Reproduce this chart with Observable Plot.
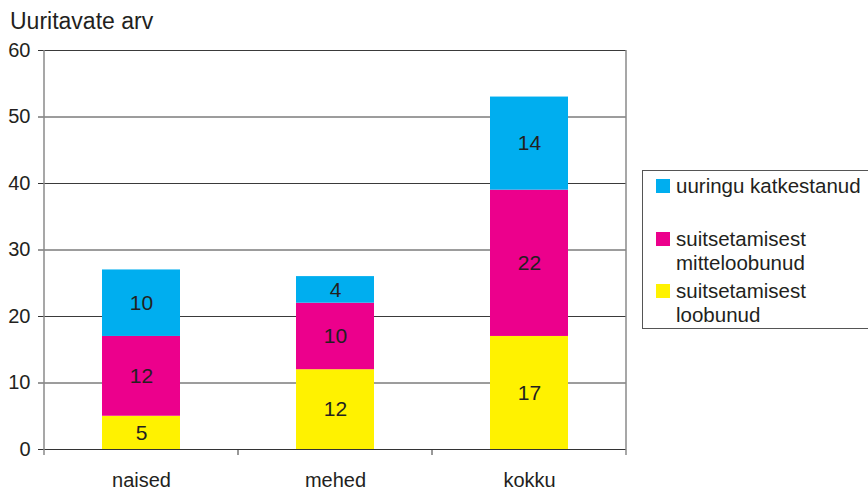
<!DOCTYPE html>
<html><head><meta charset="utf-8">
<script src="https://cdn.jsdelivr.net/npm/d3@7"></script>
<script src="https://cdn.jsdelivr.net/npm/@observablehq/plot@0.6"></script>
<style>body{margin:0;background:#fff}</style>
</head><body><div id="chart"></div>
<script>
const categories = ["naised", "mehed", "kokku"];
const seriesNames = ["suitsetamisest loobunud", "suitsetamisest mitteloobunud", "uuringu katkestanud"];
const loobunud = [5, 12, 17];
const mitteloobunud = [12, 10, 22];
const katkestanud = [10, 4, 14];
const yTicks = [0, 10, 20, 30, 40, 50, 60];
const colors = ["#FFF200", "#EC008C", "#00AEEF"];
const legendItems = [
  {color: "#00AEEF", lines: ["uuringu katkestanud"]},
  {color: "#EC008C", lines: ["suitsetamisest", "mitteloobunud"]},
  {color: "#FFF200", lines: ["suitsetamisest", "loobunud"]}
];
const title = "Uuritavate arv";

const rows = [];
[loobunud, mitteloobunud, katkestanud].forEach((vals, si) =>
  vals.forEach((v, ci) => rows.push({category: categories[ci], series: seriesNames[si], value: v})));

const FONT = "'Liberation Sans', Arial, sans-serif";
const TXT = "#231F20";

const chart = Plot.plot({
  width: 868, height: 490,
  marginLeft: 44, marginRight: 242, marginTop: 50, marginBottom: 41,
  style: {fontFamily: FONT, fontSize: "20px", color: TXT, background: "#fff"},
  x: {domain: categories, paddingInner: 0.6, paddingOuter: 0.3, label: null},
  y: {domain: [0, 60], label: null, ticks: yTicks},
  color: {domain: seriesNames, range: colors},
  marks: [
    Plot.gridY(yTicks.filter(d => d > 0), {stroke: "#3a3a3a", strokeOpacity: 1}),
    Plot.barY(rows, {x: "category", y: "value", fill: "series", order: seriesNames}),
    Plot.text(rows, Plot.stackY({x: "category", y: "value", z: "series", order: seriesNames,
      text: d => String(d.value), fontSize: 21, fill: TXT})),
    Plot.axisY(yTicks, {tickSize: 6, tickPadding: 8, stroke: "#333", fontSize: 20, fill: TXT}),
    Plot.axisX({tickSize: 0, tickPadding: 23, fontSize: 20, fill: TXT}),
    Plot.ruleY([0], {stroke: "#333"})
  ]
});
document.getElementById("chart").appendChild(chart);

const svg = d3.select(chart);
const xs = chart.scale("x");
const ys = chart.scale("y");
const [x0, x1] = xs.range;
const yTop = ys.apply(60), yBot = ys.apply(0);

// title
svg.append("text").attr("x", 10).attr("y", 29).attr("font-size", 23)
  .attr("text-anchor", "start")
  .attr("font-family", FONT).attr("fill", TXT).text(title);

// left and right axis lines
[x0, x1].forEach(x => svg.append("line").attr("x1", x).attr("x2", x)
  .attr("y1", yTop).attr("y2", yBot + 6).attr("stroke", "#8a8a8a").attr("stroke-width", 1.5));
// category boundary ticks
const step = (x1 - x0) / categories.length;
for (let i = 1; i < categories.length; i++) {
  const x = x0 + i * step;
  svg.append("line").attr("x1", x).attr("x2", x).attr("y1", yBot).attr("y2", yBot + 6)
    .attr("stroke", "#333");
}

// legend
const lg = svg.append("g").attr("font-family", FONT).attr("font-size", 20.5)
  .attr("fill", TXT).attr("text-anchor", "start");
lg.append("rect").attr("x", 642.5).attr("y", 170.5).attr("width", 240).attr("height", 158)
  .attr("fill", "none").attr("stroke", "#555");
const itemTops = [179, 232, 284];
legendItems.forEach((it, i) => {
  const t = itemTops[i];
  lg.append("rect").attr("x", 656).attr("y", t).attr("width", 14).attr("height", 14).attr("fill", it.color);
  it.lines.forEach((ln, j) => lg.append("text").attr("x", 676).attr("y", t + 13.5 + j * 24.5).text(ln));
});
</script>
</body></html>
